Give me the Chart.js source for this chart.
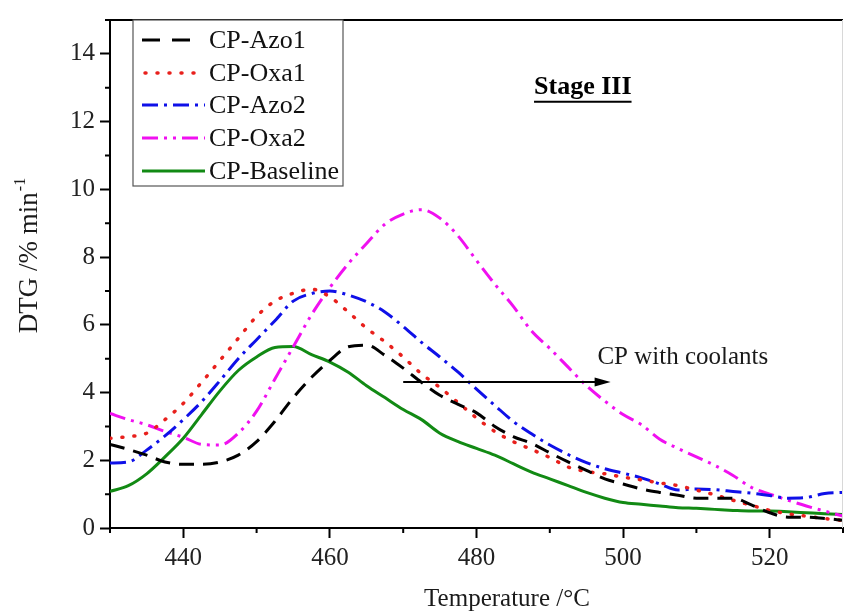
<!DOCTYPE html>
<html>
<head>
<meta charset="utf-8">
<script src="https://cdn.jsdelivr.net/npm/chart.js@4"></script>
<style>
  html, body { margin: 0; padding: 0; background: #fff; }
  #wrap { width: 844px; height: 611px; }
</style>
</head>
<body>
<div id="wrap"><canvas id="dtgChart" width="844" height="611"></canvas></div>
<script>
// temperature grid (°C)
const temps = [430, 432.5, 435, 437.5, 440, 442.5, 445, 447.5, 450, 452.5,
               455, 457.5, 460, 462.5, 465, 467.5, 470, 472.5, 475, 477.5,
               480, 482.5, 485, 487.5, 490, 492.5, 495, 497.5, 500, 502.5,
               505, 507.5, 510, 512.5, 515, 517.5, 520, 522.5, 525, 527.5, 530];

const azo1 = [2.47, 2.32, 2.15, 1.95, 1.88, 1.88, 1.95, 2.15, 2.55, 3.15,
              3.85, 4.45, 4.95, 5.35, 5.4, 5.1, 4.72, 4.3, 3.92, 3.65,
              3.4, 3.0, 2.7, 2.5, 2.22, 1.95, 1.7, 1.45, 1.3, 1.15,
              1.05, 0.97, 0.88, 0.88, 0.88, 0.68, 0.45, 0.32, 0.32, 0.28, 0.23];

const oxa1 = [2.65, 2.7, 2.8, 3.2, 3.68, 4.3, 4.95, 5.6, 6.25, 6.7,
              6.93, 7.05, 6.82, 6.38, 5.9, 5.5, 5.05, 4.55, 4.15, 3.7,
              3.25, 2.85, 2.55, 2.32, 2.08, 1.8, 1.67, 1.6, 1.5, 1.42,
              1.33, 1.25, 1.12, 0.98, 0.82, 0.67, 0.52, 0.42, 0.35, 0.28, 0.22];

const azo2 = [1.92, 1.95, 2.3, 2.72, 3.2, 3.73, 4.35, 5.0, 5.56, 6.12,
              6.7, 6.92, 7.0, 6.88, 6.68, 6.38, 5.95, 5.48, 5.05, 4.6,
              4.1, 3.62, 3.15, 2.78, 2.45, 2.17, 1.93, 1.75, 1.62, 1.48,
              1.3, 1.12, 1.15, 1.13, 1.08, 1.03, 0.96, 0.88, 0.9, 1.02, 1.05];

const oxa2 = [3.38, 3.2, 3.05, 2.85, 2.68, 2.47, 2.45, 2.8, 3.45, 4.4,
              5.35, 6.3, 7.1, 7.8, 8.4, 8.97, 9.27, 9.4, 9.15, 8.62,
              7.9, 7.2, 6.55, 5.82, 5.3, 4.75, 4.2, 3.75, 3.35, 3.05,
              2.62, 2.35, 2.1, 1.85, 1.55, 1.2, 1.0, 0.82, 0.65, 0.5, 0.35];

const baseline = [1.08, 1.25, 1.6, 2.1, 2.65, 3.35, 4.05, 4.65, 5.05, 5.33,
                  5.36, 5.12, 4.9, 4.6, 4.2, 3.85, 3.5, 3.2, 2.8, 2.55,
                  2.35, 2.15, 1.9, 1.65, 1.45, 1.25, 1.05, 0.88, 0.75, 0.7,
                  0.65, 0.6, 0.58, 0.55, 0.52, 0.5, 0.5, 0.48, 0.45, 0.42, 0.4];

const seriesNames = ['CP-Azo1', 'CP-Oxa1', 'CP-Azo2', 'CP-Oxa2', 'CP-Baseline'];
const xTicks = [440, 460, 480, 500, 520];
const xMinor = [430, 450, 470, 490, 510, 530];
const yTicks = [0, 2, 4, 6, 8, 10, 12, 14];
const yMinor = [1, 3, 5, 7, 9, 11, 13, 15];

const serif = '"Liberation Serif", "DejaVu Serif", serif';

function pts(vals) {
    return temps.map((t, i) => ({ x: t, y: vals[i] }));
}

const styles = [
    { color: '#000000', dash: [15, 9], width: 3, cap: 'butt' },
    { color: '#e8201c', dash: [1, 11], width: 3.5, cap: 'round' },
    { color: '#0f10e8', dash: [16, 6, 3, 6], width: 3, cap: 'butt' },
    { color: '#f010f0', dash: [16, 6, 3, 6, 3, 6], width: 3, cap: 'butt' },
    { color: '#128a14', dash: [], width: 3, cap: 'butt' }
];
const values = [azo1, oxa1, azo2, oxa2, baseline];

const datasets = seriesNames.map((name, i) => ({
    label: name,
    data: pts(values[i]),
    borderColor: styles[i].color,
    borderWidth: styles[i].width,
    borderDash: styles[i].dash,
    borderCapStyle: styles[i].cap,
    pointRadius: 0,
    fill: false,
    tension: 0.4,
    cubicInterpolationMode: 'monotone'
}));

const extras = {
    id: 'extras',
    afterDraw(chart) {
        const ctx = chart.ctx;
        const a = chart.chartArea;
        const xs = chart.scales.x, ys = chart.scales.y;
        ctx.save();

        // frame: top black, right light grey
        ctx.strokeStyle = '#000';
        ctx.lineWidth = 2;
        ctx.beginPath();
        ctx.moveTo(a.left - 1, a.top);
        ctx.lineTo(a.right, a.top);
        ctx.stroke();
        ctx.strokeStyle = '#d8d8d8';
        ctx.lineWidth = 1;
        ctx.beginPath();
        ctx.moveTo(a.right - 0.5, a.top);
        ctx.lineTo(a.right - 0.5, a.bottom);
        ctx.stroke();

        // minor ticks
        ctx.strokeStyle = '#000';
        ctx.lineWidth = 2;
        ctx.beginPath();
        xMinor.forEach(v => {
            const px = xs.getPixelForValue(v);
            ctx.moveTo(px, a.bottom);
            ctx.lineTo(px, a.bottom + 5);
        });
        yMinor.forEach(v => {
            const py = ys.getPixelForValue(v);
            ctx.moveTo(a.left, py);
            ctx.lineTo(a.left - 5, py);
        });
        ctx.stroke();

        // legend box
        const lx = 133, ly = 20, lw = 210, lh = 166;
        ctx.fillStyle = '#fff';
        ctx.fillRect(lx, ly, lw, lh);
        ctx.strokeStyle = '#555';
        ctx.lineWidth = 1.2;
        ctx.strokeRect(lx, ly, lw, lh);
        ctx.font = '26px ' + serif;
        ctx.textBaseline = 'middle';
        ctx.textAlign = 'left';
        const rows = [40, 73, 105, 138, 171];
        seriesNames.forEach((name, i) => {
            const st = styles[i];
            ctx.strokeStyle = st.color;
            ctx.lineWidth = st.width;
            ctx.lineCap = st.cap;
            ctx.setLineDash(i === 0 ? [18, 12] : st.dash);
            ctx.beginPath();
            ctx.moveTo(i === 1 ? 145 : 142, rows[i]);
            ctx.lineTo(i === 0 ? 190 : 205, rows[i]);
            ctx.stroke();
            ctx.setLineDash([]);
            ctx.lineCap = 'butt';
            ctx.fillStyle = '#111';
            ctx.fillText(name, 209, rows[i] + 1);
        });

        // Stage III label
        ctx.font = 'bold 26px ' + serif;
        ctx.fillStyle = '#000';
        ctx.strokeStyle = '#000';
        ctx.textAlign = 'center';
        const sx = xs.getPixelForValue(494.5), sy = ys.getPixelForValue(13.0);
        ctx.fillText('Stage III', sx, sy);
        const sw = ctx.measureText('Stage III').width;
        ctx.lineWidth = 2;
        ctx.beginPath();
        ctx.moveTo(sx - sw / 2, sy + 14);
        ctx.lineTo(sx + sw / 2, sy + 14);
        ctx.stroke();

        // arrow "CP with coolants"
        const ax0 = xs.getPixelForValue(470), ax1 = xs.getPixelForValue(498.3);
        const ay = ys.getPixelForValue(4.31);
        ctx.lineWidth = 2;
        ctx.beginPath();
        ctx.moveTo(ax0, ay);
        ctx.lineTo(ax1 - 12, ay);
        ctx.stroke();
        ctx.beginPath();
        ctx.moveTo(ax1, ay);
        ctx.lineTo(ax1 - 16, ay - 4.5);
        ctx.lineTo(ax1 - 16, ay + 4.5);
        ctx.closePath();
        ctx.fill();
        ctx.font = '25px ' + serif;
        ctx.fillStyle = '#1a1a1a';
        ctx.textAlign = 'left';
        ctx.fillText('CP with coolants', xs.getPixelForValue(496.5), ys.getPixelForValue(5.05));

        // axis titles
        ctx.font = '25px ' + serif;
        ctx.textAlign = 'center';
        ctx.textBaseline = 'alphabetic';
        ctx.fillText('Temperature /°C', 507, 606);

        ctx.translate(37, 256);
        ctx.rotate(-Math.PI / 2);
        ctx.textAlign = 'left';
        const main = 'DTG /% min';
        ctx.font = '27px ' + serif;
        const mw = ctx.measureText(main).width;
        ctx.font = '16px ' + serif;
        const supw = ctx.measureText('-1').width;
        const start = -(mw + supw) / 2;
        ctx.font = '27px ' + serif;
        ctx.fillText(main, start, 0);
        ctx.font = '16px ' + serif;
        ctx.fillText('-1', start + mw + 1, -12);

        ctx.restore();
    }
};

const ctx = document.getElementById('dtgChart').getContext('2d');
new Chart(ctx, {
    type: 'line',
    data: { datasets: datasets },
    options: {
        responsive: false,
        animation: false,
        layout: { padding: { top: 12, right: 1, left: 0, bottom: 0 } },
        plugins: {
            legend: { display: false },
            tooltip: { enabled: false }
        },
        scales: {
            x: {
                type: 'linear',
                min: 430,
                max: 530,
                afterBuildTicks: scale => { scale.ticks = xTicks.map(v => ({ value: v })); },
                afterFit: scale => { scale.height = 83; },
                grid: { drawOnChartArea: false, drawTicks: true, tickLength: 10, tickColor: '#000', tickWidth: 2 },
                border: { display: true, color: '#000', width: 2 },
                ticks: {
                    color: '#222',
                    font: { family: serif, size: 25 },
                    padding: 5,
                    maxRotation: 0
                }
            },
            y: {
                min: 0,
                max: 15,
                afterBuildTicks: scale => { scale.ticks = yTicks.map(v => ({ value: v })); },
                afterFit: scale => { scale.width = 110; },
                grid: { drawOnChartArea: false, drawTicks: true, tickLength: 10, tickColor: '#000', tickWidth: 2 },
                border: { display: true, color: '#000', width: 2 },
                ticks: {
                    color: '#222',
                    font: { family: serif, size: 25 },
                    padding: 5
                }
            }
        }
    },
    plugins: [extras]
});
</script>
</body>
</html>
